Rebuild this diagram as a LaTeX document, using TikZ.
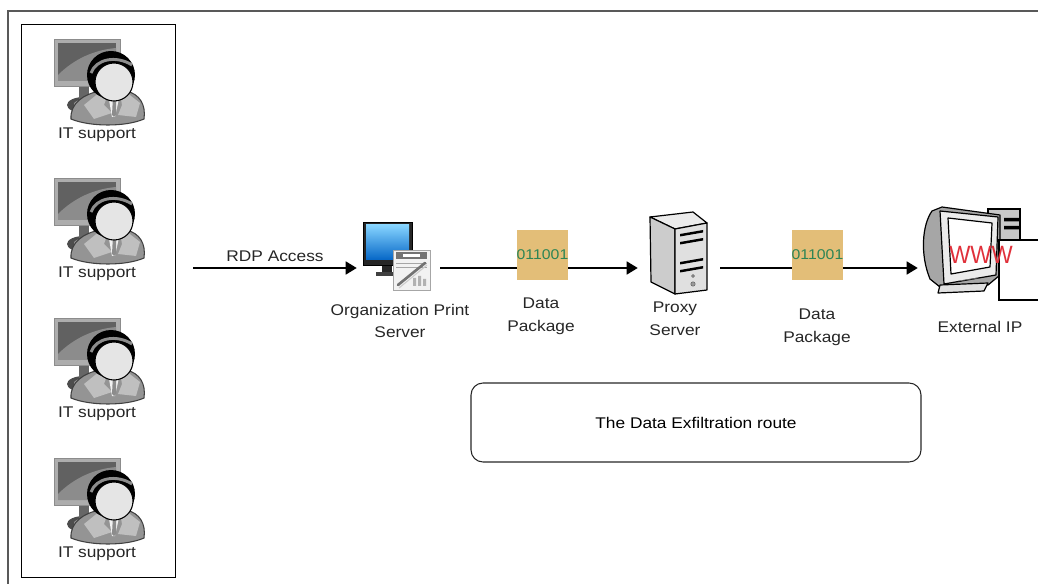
\documentclass[tikz,border=0pt]{standalone}
\usepackage{fontspec}
\setmainfont[FakeStretch=1.12]{Liberation Sans}
\usetikzlibrary{arrows.meta}
\definecolor{pkgfill}{HTML}{E3BE78}
\definecolor{bits}{HTML}{2E8555}
\definecolor{scrtop}{HTML}{86D4FF}
\definecolor{scrbot}{HTML}{0566C6}
\definecolor{wwwred}{HTML}{E0303A}
\newcommand\lblfont{\fontsize{11.6pt}{17.2pt}\selectfont}
\newcommand\bitfont{\fontsize{10.6pt}{12pt}\selectfont}

\tikzset{
  lbl/.style={font=\lblfont, align=center, inner sep=0pt, text=black!85},
  hub/.style={inner sep=0pt, draw=none},
  flow/.style={line width=1.1pt, -{Triangle[length=8.25pt,width=9.75pt]}},
  pkg/.style={fill=pkgfill, draw=none, minimum width=29.25pt, minimum height=37.5pt,
              inner sep=0pt, text=bits, font=\bitfont},
  route/.style={draw=black!85, line width=0.8pt, rounded corners=9pt,
                minimum width=337.5pt, minimum height=59.25pt, font=\lblfont},
  % person in front of a monitor; origin = monitor top-left
  itperson/.pic={
    \fill[black!70] (30,66) ellipse [x radius=17, y radius=8];
    \fill[black!40] (31,65) ellipse [x radius=11, y radius=4.5];
    \fill[black!60] (25,46) rectangle (35,62);
    \draw[fill=black!32, draw=black!45] (0,0) rectangle (66,47);
    \fill[black!62] (4,4) rectangle (62,42);
    \fill[black!45] (4,36) .. controls (20,20) and (40,11) .. (62,9) -- (62,42) -- (4,42) -- cycle;
    \draw[fill=black!42, draw=black!75, line width=0.8pt]
      (17,80) .. controls (16,64) and (30,55) .. (46,52) -- (72,52)
      .. controls (86,55) and (92,66) .. (90,80)
      .. controls (72,88) and (36,88) .. (17,80) -- cycle;
    \fill[black!25] (46,53) -- (54,55) -- (50,66) -- (58,74) -- (40,80) -- (30,66) -- cycle;
    \fill[black!25] (72,53) -- (66,55) -- (68,66) -- (64,76) -- (82,78) -- (86,64) -- cycle;
    \fill[black!5] (54,55) -- (66,55) -- (61,78) -- (58,78) -- cycle;
    \fill[black!45] (59,57) -- (62,57) -- (62,76) -- (60,78) -- (58,76) -- cycle;
    \fill[black] (57,36) circle [radius=24];
    \draw[black!45, line width=2.2pt] (37,34) .. controls (42,20) and (62,16) .. (78,26);
    \draw[fill=black!10, draw=black, line width=0.8pt] (60,43) circle [radius=19];
  },
  % desktop with a print document in front; origin = monitor top-left
  printserver/.pic={
    \fill[black!75] (13,50) rectangle (36,54);
    \fill[black!85] (19,43) rectangle (29,50);
    \draw[fill=black!85, draw=black] (0,0) rectangle (49,43);
    \shade[top color=scrtop, bottom color=scrbot] (3,3) rectangle (46,38);
    \draw[fill=black!5, draw=black!35] (30,28) rectangle (67,68);
    \fill[black!55] (33,30) rectangle (64,37);
    \fill[white] (40,32) rectangle (57,35);
    \draw[black!35] (33,41) -- (64,41) (33,45) -- (64,45);
    \fill[black!30] (50,56) rectangle (53,64) (55,54) rectangle (58,64) (60,57) rectangle (63,64);
    \draw[black!55, line width=2pt, line cap=round] (35,63) -- (62,41);
    \draw[black!20, line width=0.8pt] (36,66) -- (64,43);
  },
  % tower server; origin = top-left of the box
  tower/.pic={
    \draw[fill=black!8, line width=0.9pt, line join=round] (0,5) -- (43,0) -- (57,11) -- (25,17) -- cycle;
    \draw[fill=black!20, line width=0.9pt, line join=round] (0,5) -- (25,17) -- (25,82) -- (1,70) -- cycle;
    \draw[fill=black!12, line width=0.9pt, line join=round] (25,17) -- (57,11) -- (57,78) -- (25,82) -- cycle;
    \fill[black] (30,22) -- (53,18) -- (53,20.5) -- (30,24.5) -- cycle;
    \fill[black] (30,30) -- (53,26) -- (53,28.5) -- (30,32.5) -- cycle;
    \fill[black] (30,50) -- (53,46) -- (53,48.5) -- (30,52.5) -- cycle;
    \fill[black] (30,58) -- (53,54) -- (53,56.5) -- (30,60.5) -- cycle;
    \draw[fill=black!40, draw=black!60] (43,64) circle [radius=1.5];
    \draw[fill=black!40, draw=black!60] (43,72) circle [radius=2.2];
  },
  % CRT monitor with tower behind; origin = top-left
  webhost/.pic={
    \draw[fill=black!22, line width=0.8pt] (70,4) rectangle (102,50);
    \fill[black] (86,13) rectangle (101,16.5) (86,21) rectangle (101,24.5);
    \draw[fill=black!35, line width=0.9pt, line join=round]
      (14,6) .. controls (4,20) and (2,50) .. (12,74) -- (22,82) -- (70,80)
      -- (82,70) -- (82,10) -- (24,2) -- cycle;
    \draw[fill=black!12, line width=0.9pt, line join=round] (22,80) -- (20,88) -- (66,86) -- (70,78) -- cycle;
    \draw[fill=black!8, line width=0.9pt, line join=round] (22,6) -- (80,12) -- (78,70) -- (26,79) -- cycle;
    \draw[fill=white, line width=0.9pt, line join=round] (30,13) -- (74,18) -- (72,62) -- (33,69) -- cycle;
    \draw[black!50] (40,76) -- (60,73);
  }
}

\begin{document}
\begin{tikzpicture}[x=0.75pt, y=-0.75pt]
\useasboundingbox (0,0) rectangle (1038,584);

% page frame and the group box
\draw[black!65, line width=1.2pt] (8,584) -- (8,11) -- (1038,11);
\draw[black, line width=0.6pt] (21,24) rectangle (175,577);

% IT support staff
\pic (p1) at (54,39)  {itperson};
\pic (p2) at (54,178) {itperson};
\pic (p3) at (54,318) {itperson};
\pic (p4) at (54,458) {itperson};
\node[lbl] (it1) at (97,135) {IT support};
\node[lbl] (it2) at (97,274) {IT support};
\node[lbl] (it3) at (97,414) {IT support};
\node[lbl] (it4) at (97,554) {IT support};

% route hosts
\node[hub, minimum width=62.25pt, minimum height=52.5pt] (print) at (398.5,268) {};
\node[hub, minimum width=61.5pt,  minimum height=60pt]   (proxy) at (679,268) {};
\node[hub, minimum width=63pt,    minimum height=60pt]   (ext)   at (960,268) {};
\pic at (363,222) {printserver};
\pic at (650,212) {tower};
\pic at (918,205) {webhost};

% answer box beside the web host
\draw[fill=white, line width=0.8pt] (1038,240) -- (999,240) -- (999,300) -- (1038,300);
\node[text=wwwred, font=\fontsize{15pt}{15pt}\selectfont, inner sep=0pt, yscale=1.25] (www) at (981,255) {WWW};

% connectors
\coordinate (rdp) at (193,268);
\draw[flow] (rdp) -- (print.west);
\node[lbl, anchor=base] (rdplbl) at (275,262) {RDP Access};
\draw[flow] (print.east) -- (proxy.west);
\draw[flow] (proxy.east) -- (ext.west);

% data packages on the wire
\node[pkg] (pk1) at (542.5,255) {011001};
\node[pkg] (pk2) at (817.5,255) {011001};

% labels
\node[lbl] (printlbl) at (400,321) {Organization Print\\Server};
\node[lbl] (pk1lbl)   at (541,316) {Data\\Package};
\node[lbl] (proxylbl) at (675,319) {Proxy\\Server};
\node[lbl] (pk2lbl)   at (817,327) {Data\\Package};
\node[lbl] (extlbl)   at (980,327) {External IP};

% caption box
\node[route] (route) at (696,422.5) {The Data Exfiltration route};
\end{tikzpicture}
\end{document}
